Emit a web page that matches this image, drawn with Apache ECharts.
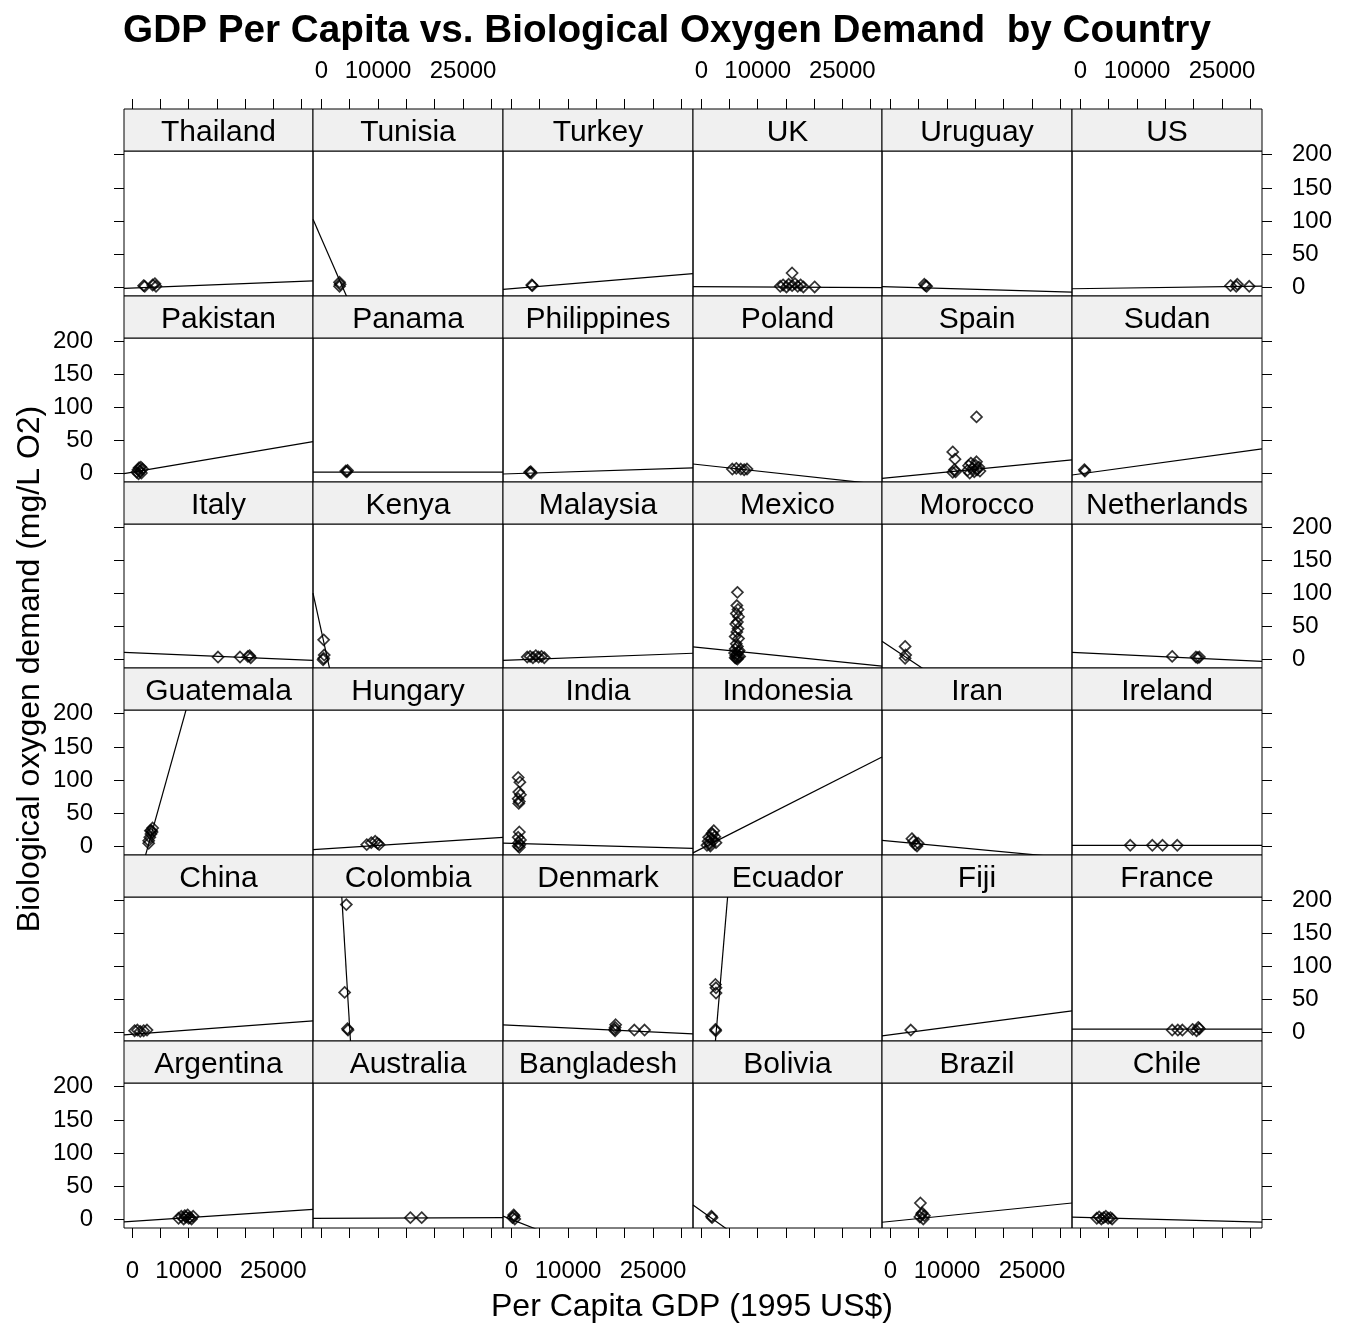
<!DOCTYPE html>
<html><head><meta charset="utf-8">
<script src="https://cdn.jsdelivr.net/npm/echarts@6/dist/echarts.min.js"></script>
<style>html,body{margin:0;padding:0;background:#fff}#c{width:1349px;height:1328px}</style>
</head><body><div id="c"></div>
<script>
// Panels in lattice order: bottom-left first, left to right, then upward
const countries = ['Argentina','Australia','Bangladesh','Bolivia','Brazil','Chile',
  'China','Colombia','Denmark','Ecuador','Fiji','France',
  'Guatemala','Hungary','India','Indonesia','Iran','Ireland',
  'Italy','Kenya','Malaysia','Mexico','Morocco','Netherlands',
  'Pakistan','Panama','Philippines','Poland','Spain','Sudan',
  'Thailand','Tunisia','Turkey','UK','Uruguay','US'];

// [GDP per capita (1995 US$), BOD (mg/L O2)]
const argentina = [[8200,2],[8700,5],[9100,1],[9500,4],[9800,7],[10200,3],[10500,1],[10800,5],[9300,6],[10000,2]];
const australia = [[15700,3],[17700,3]];
const bangladesh = [[200,3],[400,7],[600,1],[500,5]];
const bolivia = [[1800,5],[1900,3]];
const brazil = [[5300,25],[5600,10],[5200,4],[5800,1],[6000,6],[5500,8]];
const chile = [[2900,2],[3300,4],[3700,1],[4100,3],[4500,5],[4900,2],[5300,3],[5600,1]];
const china = [[400,3],[900,4],[1400,2],[2000,3],[2600,4]];
const colombia = [[4400,194],[4100,61],[4700,4],[4600,6]];
const denmark = [[18300,3],[18300,8],[18400,12],[18200,5],[21700,4],[23500,4]];
const ecuador = [[2500,5],[2600,60],[2600,68],[2500,73],[2550,3]];
const fiji = [[3600,4]];
const france = [[16200,4],[17200,4],[18000,4],[19800,5],[20500,3],[21000,6],[20800,8]];
const guatemala = [[2900,5],[2900,9],[3100,14],[3300,19],[3400,24],[3600,28],[3500,22],[3200,24]];
const hungary = [[8000,3],[8800,6],[9500,8],[10200,3],[9900,5]];
const india = [[1200,104],[1500,97],[1300,82],[1600,78],[1200,72],[1400,68],[1300,65],[1400,22],[1200,14],[1600,10],[1300,6],[1500,3],[1200,1],[1400,-1]];
const indonesia = [[1000,2],[1200,8],[1500,4],[1800,12],[2000,18],[2200,24],[2400,15],[2600,6],[1600,1],[2100,9],[1300,14],[1900,20]];
const iran = [[3800,12],[4100,8],[4400,3],[4700,1],[4900,5]];
const ireland = [[8800,2],[12700,2],[14500,2],[17100,2]];
const italy = [[15200,4],[19100,4],[20500,5],[21000,3],[20800,6]];
const kenya = [[400,30],[400,2],[500,7],[300,0]];
const malaysia = [[2800,4],[3300,5],[3800,3],[4300,6],[4800,4],[5300,5],[5800,3]];
const mexico = [[6400,102],[6300,82],[6500,76],[6200,70],[6600,65],[6400,57],[6100,54],[6500,47],[6300,42],[6000,35],[6600,32],[6200,24],[6400,20],[6000,16],[6600,12],[6300,9],[6100,6],[6500,4],[6200,2],[6400,1],[5900,10],[6800,5],[6000,3],[6700,14]];
const morocco = [[2600,20],[2700,7],[2600,2]];
const netherlands = [[16200,5],[20400,4],[21000,4],[20700,3]];
const pakistan = [[800,2],[1000,6],[1200,9],[1400,4],[1600,1],[1800,7],[1100,0],[1500,10]];
const panama = [[4300,4],[4500,3],[4600,5]];
const philippines = [[3200,2],[3400,3],[3500,1]];
const poland = [[5500,7],[6200,8],[7000,7],[7600,6],[8100,7]];
const spain = [[11000,33],[11400,22],[11000,2],[11300,6],[11500,3],[13600,5],[13800,12],[14200,16],[14500,8],[14800,3],[15000,13],[15200,18],[15300,6],[15600,10],[15200,86],[14000,1],[15800,4]];
const sudan = [[800,4],[700,6]];
const thailand = [[2000,3],[2200,2],[3600,4],[4200,2],[4000,6]];
const tunisia = [[3200,2],[3300,5],[3200,8]];
const turkey = [[3700,3],[3600,4]];
const uk = [[14000,2],[14500,4],[15100,1],[15500,5],[16100,3],[16100,22],[16600,6],[17100,2],[17600,4],[18100,1],[20100,1]];
const uruguay = [[6200,3],[6000,5],[6400,2]];
const us = [[26500,3],[27700,5],[29800,2],[27500,2]];

const panelPoints = [argentina,australia,bangladesh,bolivia,brazil,chile,
  china,colombia,denmark,ecuador,fiji,france,
  guatemala,hungary,india,indonesia,iran,ireland,
  italy,kenya,malaysia,mexico,morocco,netherlands,
  pakistan,panama,philippines,poland,spain,sudan,
  thailand,tunisia,turkey,uk,uruguay,us];

// Fitted regression lines: BOD = intercept + slope * (GDP / 1000)
const lineIntercept = [-2.5,2,0.34,13.1,-2.7,3.5,
  -2.4,718.5,11.2,-265,-3.3,5.5,
  -84,-3.6,4.86,-3,8.1,2,
  10.5,43.1,-0.5,18.0,19.5,10.4,
  2.15,2.5,-0.1,13.3,-5.8,-0.25,
  -0.5,74,-1.5,1.5,1.1,-1.5];
const lineSlope = [0.56,0.03,-3.35,-6.04,0.865,-0.227,
  0.632,-142.5,-0.406,101,1.133,0,
  30.4,0.543,-0.23,4.3,-0.8,0,
  -0.358,-39,0.32,-0.862,-5.75,-0.4,
  1.45,0,0.28,-0.93,0.83,1.18,
  0.33,-19.56,0.7,-0.05,-0.25,0.12];

const xTickValues = [0,5000,10000,15000,20000,25000,30000];
const xLabelValues = [0,10000,25000];
const yTickValues = [0,50,100,150,200];

const titleText = 'GDP Per Capita vs. Biological Oxygen Demand  by Country';
const xTitle = 'Per Capita GDP (1995 US$)';
const yTitle = 'Biological oxygen demand (mg/L O2)';

// ---- layout ----
const FONT = '"Liberation Sans", Arial, sans-serif';
const X_MIN = -1480, X_MAX = 32050, Y_MIN = -12.6, Y_MAX = 205.5;
const colEdges = [124,313,503,693,882,1072,1262];
const rowEdges = [109,296,482,668,855,1041,1228];
const STRIP = 42;

const grids = [], xAxes = [], yAxes = [], series = [], graphics = [];
const extraX = [], extraY = [];

function tickCfg(show, vals){ return {show, customValues: vals, length: 10, inside:false, lineStyle:{color:'#000', width:1}}; }
function labCfg(show, vals, margin){ return {show, customValues: vals, formatter: v => String(v), margin, color:'#000', fontSize:24, fontFamily: FONT}; }
const noLine = {show:false, onZero:false};

for (let i = 0; i < countries.length; i++) {
  const rb = Math.floor(i / 6), r = 5 - rb, c = i % 6;
  const left = colEdges[c], width = colEdges[c+1] - colEdges[c];
  const stripTop = rowEdges[r];
  const top = stripTop + STRIP, height = rowEdges[r+1] - top;
  grids.push({left, top, width, height, show:true, borderColor:'#000', borderWidth:1, backgroundColor:'transparent'});
  const isBottom = r === 5, isTop = r === 0, isLeft = c === 0, isRight = c === 5;
  xAxes.push({type:'value', gridIndex:i, min:X_MIN, max:X_MAX, position:'bottom',
    axisLine:noLine, splitLine:{show:false},
    axisTick: tickCfg(isBottom, xTickValues),
    axisLabel: labCfg(isBottom && c % 2 === 0, xLabelValues, 31)});
  yAxes.push({type:'value', gridIndex:i, min:Y_MIN, max:Y_MAX, position:'left',
    axisLine:noLine, splitLine:{show:false},
    axisTick: tickCfg(isLeft, yTickValues),
    axisLabel: labCfg(isLeft && r % 2 === 1, yTickValues, 31)});
  if (isTop) extraX.push({type:'value', gridIndex:i, min:X_MIN, max:X_MAX, position:'top', offset: STRIP,
    axisLine:noLine, splitLine:{show:false},
    axisTick: tickCfg(true, xTickValues),
    axisLabel: labCfg(c % 2 === 1, xLabelValues, 26)});
  if (isRight) extraY.push({type:'value', gridIndex:i, min:Y_MIN, max:Y_MAX, position:'right',
    axisLine:noLine, splitLine:{show:false},
    axisTick: tickCfg(true, yTickValues),
    axisLabel: labCfg(r % 2 === 0, yTickValues, 30)});

  series.push({type:'scatter', xAxisIndex:i, yAxisIndex:i, data: panelPoints[i],
    symbol:'diamond', symbolSize:11, silent:true, animation:false, z:3,
    itemStyle:{color:'rgba(0,0,0,0)', borderColor:'#000', borderWidth:1.7}});
  const a = lineIntercept[i], b = lineSlope[i];
  series.push({type:'line', xAxisIndex:i, yAxisIndex:i, clip:true, silent:true, animation:false,
    symbol:'none', showSymbol:false, lineStyle:{color:'#000', width:1.2}, z:2,
    data:[[X_MIN, a + b * X_MIN / 1000], [X_MAX, a + b * X_MAX / 1000]]});

  // strip
  graphics.push({type:'rect', shape:{x:left, y:stripTop, width, height:STRIP},
    style:{fill:'#f0f0f0', stroke:'#000', lineWidth:1}, z:10, silent:true});
  graphics.push({type:'text', x: left + width/2, y: stripTop + STRIP/2 + 3,
    style:{text: countries[i], fill:'#000', fontSize:30, fontFamily:FONT, align:'center', verticalAlign:'middle'}, z:11, silent:true});
}

graphics.push({type:'text', x:667, y:31, style:{text:titleText, fill:'#000', fontSize:38.7, fontWeight:'bold', fontFamily:FONT, align:'center', verticalAlign:'middle'}, z:11});
graphics.push({type:'text', x:692, y:1307, style:{text:xTitle, fill:'#000', fontSize:32, fontFamily:FONT, align:'center', verticalAlign:'middle'}, z:11});
graphics.push({type:'text', x:30, y:669, rotation:Math.PI/2, style:{text:yTitle, fill:'#000', fontSize:32, fontFamily:FONT, align:'center', verticalAlign:'middle'}, z:11});

const chart = echarts.init(document.getElementById('c'), null, {renderer:'canvas'});
chart.setOption({
  animation:false,
  backgroundColor:'#fff',
  grid: grids,
  xAxis: xAxes.concat(extraX),
  yAxis: yAxes.concat(extraY),
  series,
  graphic: graphics
});
</script>
</body></html>
